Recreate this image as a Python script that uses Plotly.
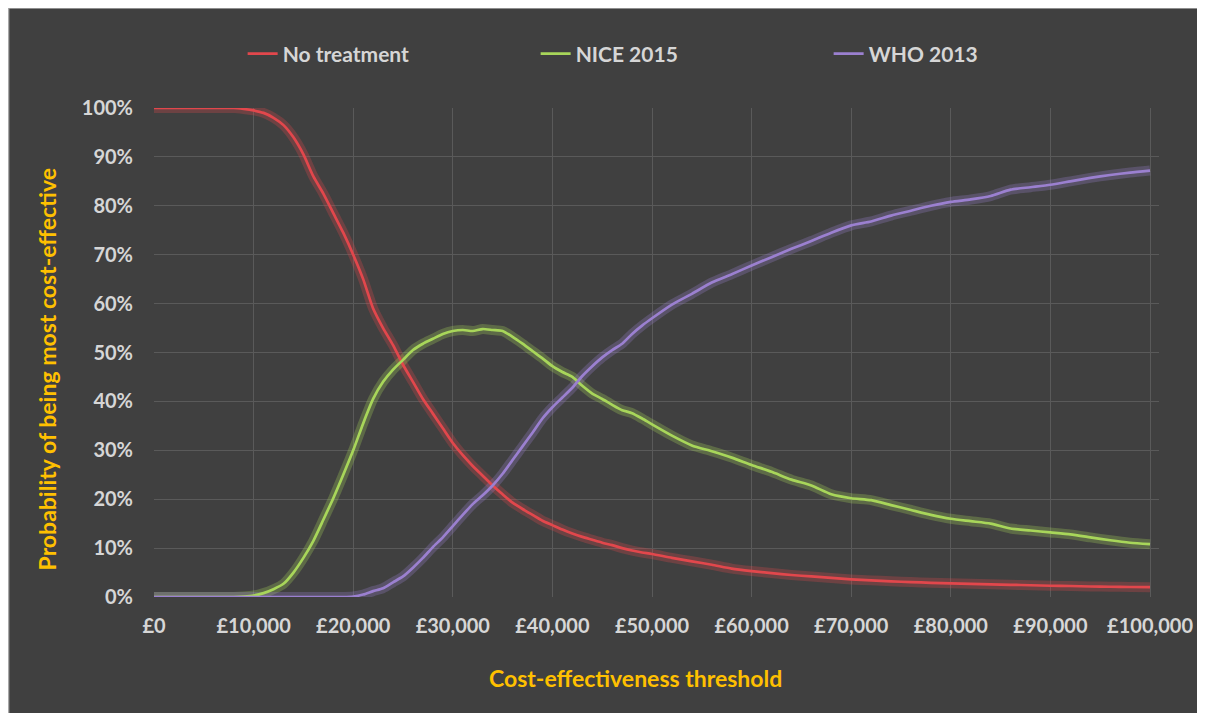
import plotly.graph_objects as go

# Cost-effectiveness thresholds (£)
thresholds = list(range(0, 51000, 1000)) + list(range(52000, 102000, 2000))

no_treatment = [
    100, 100, 100, 100, 100, 100, 100, 100, 100, 99.8,
    99.5, 99, 98, 96.5, 94, 90.5, 86, 82.5, 78.5, 74.5,
    70, 65, 59, 55, 51.5, 47.5, 44, 40.5, 37.5, 34.5,
    31.5, 29, 26.8, 24.8, 22.8, 21, 19.3, 18, 16.8, 15.6,
    14.7, 13.8, 13, 12.3, 11.7, 11.1, 10.6, 10.0, 9.5, 9.1,
    8.8,
    8.0, 7.3, 6.6, 5.8, 5.3, 4.9, 4.5, 4.2, 3.9, 3.6,
    3.4, 3.2, 3.05, 2.9, 2.8, 2.7, 2.6, 2.5, 2.4, 2.3,
    2.25, 2.15, 2.1, 2.05, 2.0,
]

nice_2015 = [
    0, 0, 0, 0, 0, 0, 0, 0, 0, 0.1,
    0.3, 0.8, 1.6, 2.7, 5, 8, 11.5, 15.8, 20.2, 25,
    30, 35.5, 40.5, 44, 46.5, 48.5, 50.5, 51.8, 52.8, 53.8,
    54.4, 54.6, 54.4, 54.8, 54.6, 54.4, 53.2, 51.8, 50.3, 48.8,
    47.2, 46, 45, 43.2, 41.6, 40.5, 39.3, 38.2, 37.6, 36.5,
    35.3,
    33, 31, 29.8, 28.5, 27, 25.6, 24, 22.8, 21, 20.2,
    19.8, 18.8, 17.8, 16.8, 16, 15.5, 15, 14, 13.6, 13.2,
    12.8, 12.2, 11.6, 11.1, 10.8,
]

who_2013 = [
    0, 0, 0, 0, 0, 0, 0, 0, 0, 0,
    0, 0, 0, 0, 0, 0, 0, 0, 0, 0,
    0.1, 0.5, 1.2, 1.8, 3, 4.2, 6, 8, 10.2, 12.2,
    14.5, 16.8, 19, 20.8, 22.8, 25.2, 28, 30.8, 33.6, 36.5,
    38.8, 40.8, 42.8, 45.2, 47.2, 49, 50.5, 51.8, 53.8, 55.5,
    57,
    59.8, 62, 64.3, 66, 67.8, 69.5, 71.2, 72.8, 74.5, 76,
    76.8, 78, 79, 80, 80.8, 81.3, 82, 83.3, 83.8, 84.3,
    85, 85.7, 86.3, 86.8, 87.2,
]

series_names = ["No treatment", "NICE 2015", "WHO 2013"]
series_values = [no_treatment, nice_2015, who_2013]
series_colors = ["#E2474C", "#A8D65A", "#9B80D0"]
glow_colors = ["rgba(226,71,76,0.28)", "rgba(168,214,90,0.28)", "rgba(155,128,208,0.28)"]

x_tickvals = list(range(0, 110000, 10000))
x_ticktext = ["£0", "£10,000", "£20,000", "£30,000", "£40,000", "£50,000",
              "£60,000", "£70,000", "£80,000", "£90,000", "£100,000"]
y_tickvals = [v / 100 for v in range(0, 110, 10)]
y_ticktext = [f"{v}%" for v in range(0, 110, 10)]

BG = "#404040"
GRID = "#5A5A5A"
TICK = "#D6D6D6"
GOLD = "#FFC000"
FONT = "Lato"

fig = go.Figure()

# soft glow beneath each line
for vals, gc in zip(series_values, glow_colors):
    fig.add_trace(go.Scatter(
        x=thresholds, y=[v / 100 for v in vals], mode="lines",
        line=dict(color=gc, width=10, shape="spline", smoothing=0.6),
        showlegend=False, hoverinfo="skip",
    ))

for name, vals, col in zip(series_names, series_values, series_colors):
    fig.add_trace(go.Scatter(
        x=thresholds, y=[v / 100 for v in vals], mode="lines", name=name,
        line=dict(color=col, width=2.7, shape="spline", smoothing=0.6),
    ))

# page body offsets the figure by 8px, which gives the white strips
W, H = 1197, 705
L, R, T, B = 146, 42, 100, 116
pw, ph = W - L - R, H - T - B


def px_x(p):
    return (p - L) / pw


def px_y(p):
    return (H - B - p) / ph


fig.update_layout(
    width=W, height=H,
    margin=dict(l=L, r=R, t=T, b=B, pad=0),
    paper_bgcolor=BG, plot_bgcolor=BG,
    font=dict(family=FONT, color=TICK),
    showlegend=True,
    legend=dict(
        orientation="h", x=px_x(235), xanchor="left", y=px_y(46), yanchor="middle",
        font=dict(family=FONT, size=21, color=TICK, weight="bold"),
        entrywidth=248, entrywidthmode="pixels",
        bgcolor="rgba(0,0,0,0)", itemwidth=30, tracegroupgap=0,
    ),
    xaxis=dict(
        range=[0, 100900], tickvals=x_tickvals, ticktext=x_ticktext,
        showgrid=True, gridcolor=GRID, gridwidth=1, zeroline=False,
        showline=False, ticks="", ticklabelstandoff=15,
        tickfont=dict(family=FONT, size=20, color=TICK, weight="bold"),
    ),
    yaxis=dict(
        range=[0, 1], tickvals=y_tickvals, ticktext=y_ticktext,
        showgrid=True, gridcolor=GRID, gridwidth=1, zeroline=False,
        showline=False, ticks="", ticklabelstandoff=20,
        tickfont=dict(family=FONT, size=20, color=TICK, weight="bold"),
    ),
    annotations=[
        dict(text="Cost-effectiveness threshold", xref="paper", yref="paper",
             x=px_x(629), y=px_y(670), xanchor="center", yanchor="middle",
             showarrow=False, font=dict(family=FONT, size=23, color=GOLD, weight="bold")),
        dict(text="Probability of being most cost-effective", xref="paper", yref="paper",
             x=px_x(39), y=px_y(361), xanchor="center", yanchor="middle", textangle=-90,
             showarrow=False, font=dict(family=FONT, size=23, color=GOLD, weight="bold")),
    ],
    shapes=[
        dict(type="rect", xref="paper", yref="paper", layer="above",
             x0=px_x(0), x1=px_x(W + 5), y0=px_y(H + 5), y1=px_y(0),
             fillcolor="rgba(0,0,0,0)", line=dict(width=1.5, color="#A8A8A8")),
    ],
)

fig.write_html("out.html")
